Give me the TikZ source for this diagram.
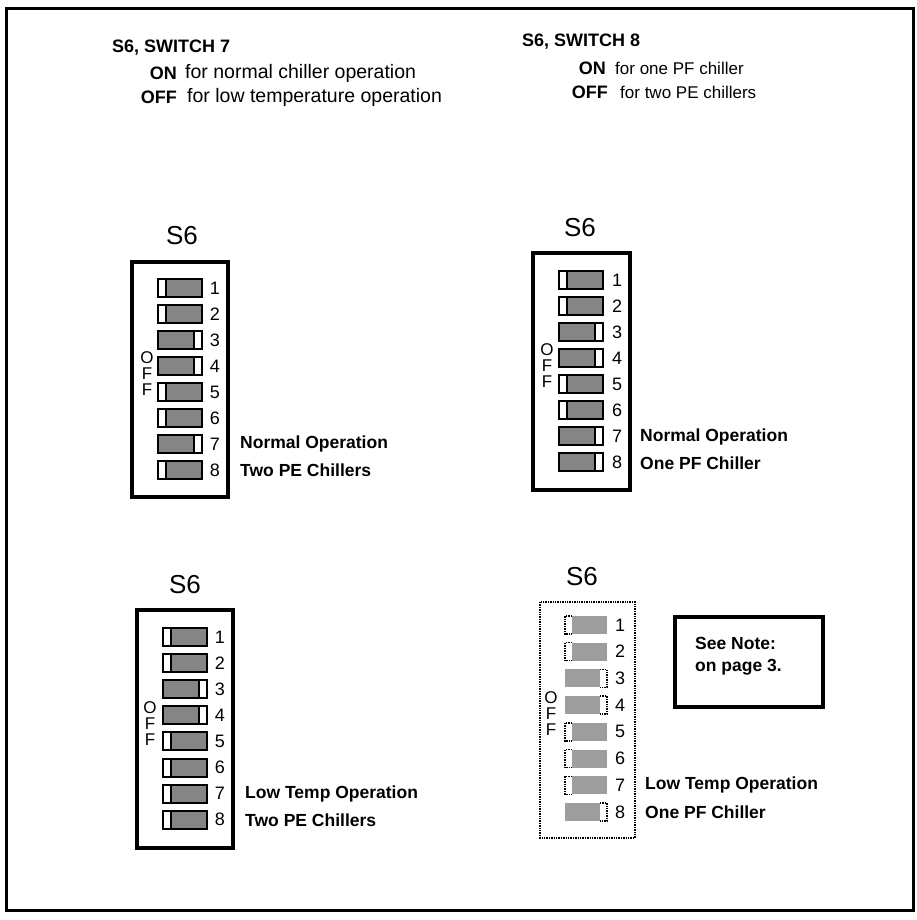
\documentclass[tikz,border=0pt]{standalone}
\usepackage{fontspec}
\setmainfont{Liberation Sans}
\begin{document}
\begin{tikzpicture}[x=1pt,y=-1pt,
  frame/.style={line width=3pt},
  box/.style={line width=3.2pt},
  hdr/.style={font=\bfseries\fontsize{18}{18}\selectfont, inner sep=0pt},
  hdrr/.style={font=\fontsize{19.5}{19.5}\selectfont, inner sep=0pt},
  hdrs/.style={font=\fontsize{17}{17}\selectfont, inner sep=0pt},
  lbl/.style={font=\bfseries\fontsize{17.5}{22}\selectfont, inner sep=0pt, anchor=west},
  num/.style={font=\fontsize{18}{18}\selectfont, inner sep=0pt},
  offs/.style={font=\fontsize{17}{16}\selectfont, inner sep=0pt, align=center},
  ttl/.style={font=\fontsize{26}{26}\selectfont, inner sep=0pt},
  swfill/.style={fill=black!48},
  swline/.style={line width=2pt},
  dipL/.pic={
    \fill[swfill] (-22,-9) rectangle (22,9);
    \filldraw[swline, fill=white] (-22,-9) rectangle (-14,9);
    \draw[swline] (-22,-9) rectangle (22,9);
  },
  dipR/.pic={
    \fill[swfill] (-22,-9) rectangle (22,9);
    \filldraw[swline, fill=white] (14,-9) rectangle (22,9);
    \draw[swline] (-22,-9) rectangle (22,9);
  },
  fdipL/.pic={
    \fill[black!38] (-14,-9) rectangle (21,9);
    \draw[densely dotted, line width=1.4pt] (-14,-9) -- (-21,-9) -- (-21,9) -- (-14,9);
  },
  fdipR/.pic={
    \fill[black!38] (-21,-9) rectangle (14,9);
    \draw[densely dotted, line width=1.4pt] (14,-9) -- (21,-9) -- (21,9) -- (14,9);
  }
]
\useasboundingbox (0,0) rectangle (916,920);
\fill[white] (0,0) rectangle (916,920);
\draw[frame] (6,9) rectangle (913,910);

% header, switch 7
\node[hdr, anchor=west] (h7) at (112,48) {S6, SWITCH 7};
\node[hdr, anchor=east] (on7) at (177,73) {ON};
\node[hdrr, anchor=west] (on7t) at (185,73) {for normal chiller operation};
\node[hdr, anchor=east] (off7) at (177,97) {OFF};
\node[hdrr, anchor=west] (off7t) at (187,97) {for low temperature operation};
% header, switch 8
\node[hdr, anchor=west] (h8) at (522,42) {S6, SWITCH 8};
\node[hdr, anchor=east] (on8) at (606,68) {ON};
\node[hdrs, anchor=west] (on8t) at (615,68) {for one PF chiller};
\node[hdr, anchor=east] (off8) at (608,92) {OFF};
\node[hdrs, anchor=west] (off8t) at (620,92) {for two PE chillers};

% top left block
\node[ttl] (tlS) at (182,236) {S6};
\draw[box] (132,262) rectangle (228,497);
\foreach \i/\s in {1/L,2/L,3/R,4/R,5/L,6/L,7/R,8/L}{
  \pic at (180,{288+26*(\i-1)}) {dip\s};
  \node[num] (tl\i) at (215,{288+26*(\i-1)}) {\i};
}
\node[offs] (tlOFF) at (147,374) {O\\F\\F};
\node[lbl] (tlA) at (240,444) {Normal Operation};
\node[lbl] (tlB) at (240,470) {Two PE Chillers};

% top right block
\node[ttl] (trS) at (580,228) {S6};
\draw[box] (533,253) rectangle (630,490);
\foreach \i/\s in {1/L,2/L,3/R,4/R,5/L,6/L,7/R,8/R}{
  \pic at (581,{280+26*(\i-1)}) {dip\s};
  \node[num] (tr\i) at (617,{280+26*(\i-1)}) {\i};
}
\node[offs] (trOFF) at (547,366) {O\\F\\F};
\node[lbl] (trA) at (640,437) {Normal Operation};
\node[lbl] (trB) at (640,463) {One PF Chiller};

% bottom left block
\node[ttl] (blS) at (185,585) {S6};
\draw[box] (137,610) rectangle (233,848);
\foreach \i/\s in {1/L,2/L,3/R,4/R,5/L,6/L,7/L,8/L}{
  \pic at (185,{637+26.1*(\i-1)}) {dip\s};
  \node[num] (bl\i) at (220,{637+26.1*(\i-1)}) {\i};
}
\node[offs] (blOFF) at (150,724) {O\\F\\F};
\node[lbl] (blA) at (245,794) {Low Temp Operation};
\node[lbl] (blB) at (245,820) {Two PE Chillers};

% bottom right block
\node[ttl] (brS) at (582,577) {S6};
\draw[densely dotted, line width=1.4pt] (540,602) rectangle (635,838);
\foreach \i/\s in {1/L,2/L,3/R,4/R,5/L,6/L,7/L,8/R}{
  \pic at (586,{625+26.7*(\i-1)}) {fdip\s};
  \node[num] (br\i) at (620,{625+26.7*(\i-1)}) {\i};
}
\node[offs] (brOFF) at (551,714) {O\\F\\F};
\node[lbl] (brA) at (645,785) {Low Temp Operation};
\node[lbl] (brB) at (645,812) {One PF Chiller};

% note box
\draw[box] (675,617) rectangle (823,707);
\node[lbl, align=left] (note) at (695,656) {See Note:\\on page 3.};
\end{tikzpicture}
\end{document}
